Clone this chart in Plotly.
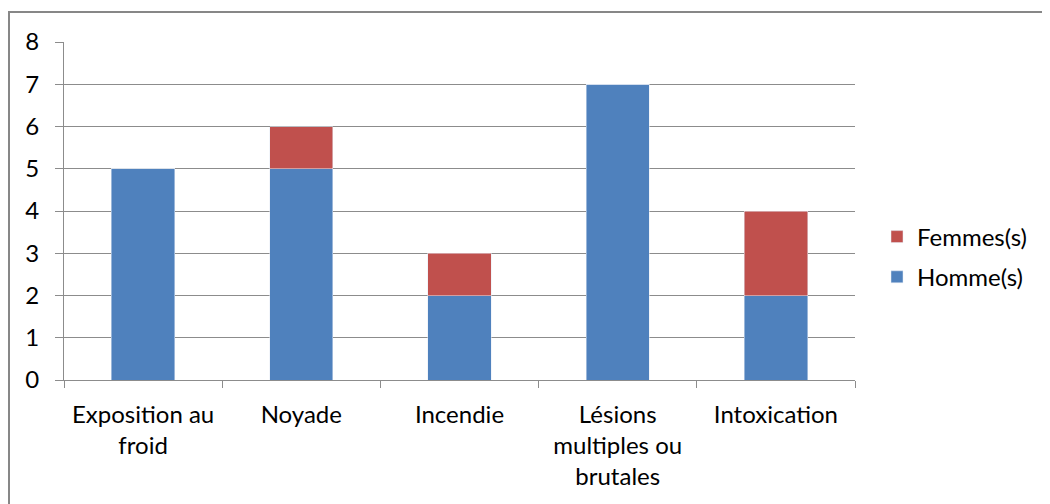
import plotly.graph_objects as go

categories = ["Exposition au<br>froid", "Noyade", "Incendie", "Lésions<br>multiples ou<br>brutales", "Intoxication"]
hommes = [5, 5, 2, 7, 2]
femmes = [0, 1, 1, 0, 2]

# the page body has an 8px margin, so the figure is offset by 8px
OFF = 8
W, H = 1050, 504
L, R, T, B = 64 - OFF, 195 + OFF, 42 - OFF, 124 + OFF
pw, ph = W - L - R, H - T - B

def px(x):
    return (x - OFF - L) / pw

def py(y):
    return (H - B - (y - OFF)) / ph

font = dict(family="Lato, Carlito, sans-serif", size=24, color="black")

fig = go.Figure()
fig.add_trace(go.Bar(x=categories, y=hommes, name="Homme(s)", marker_color="#4F81BD",
                     legendgroup="h", legendrank=2))
fig.add_trace(go.Bar(x=categories, y=femmes, name="Femmes(s)", marker_color="#C0504D",
                     legendgroup="f", legendrank=1))

# outer chart border
fig.add_shape(type="rect", xref="paper", yref="paper", x0=px(9), y0=py(600), x1=px(1150), y1=py(12),
              line=dict(color="#878787", width=2), layer="below")

fig.update_layout(
    width=W, height=H,
    barmode="stack", bargap=0.6,
    margin=dict(l=L, r=R, t=T, b=B),
    paper_bgcolor="white", plot_bgcolor="white",
    font=font,
    showlegend=True,
    legend=dict(x=px(877), y=py(257), xanchor="left", yanchor="middle",
                traceorder="grouped", tracegroupgap=6, font=font),
    xaxis=dict(showline=True, linecolor="#8c8c8c", linewidth=1, ticks="outside", ticklen=7,
               tickcolor="#8c8c8c", tickson="boundaries", showgrid=False, tickangle=0,
               ticklabelstandoff=13, automargin=False),
    yaxis=dict(range=[0, 8], dtick=1, showline=True, linecolor="#8c8c8c", linewidth=1,
               ticks="outside", ticklen=8, tickcolor="#8c8c8c", gridcolor="#8c8c8c", gridwidth=1,
               zeroline=False, ticklabelstandoff=11, automargin=False),
)

fig.write_html("out.html")
